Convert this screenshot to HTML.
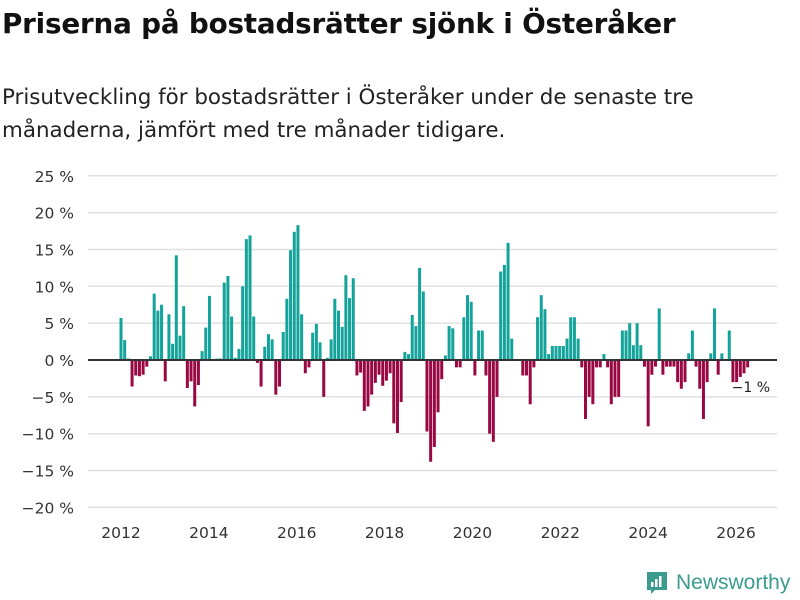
<!DOCTYPE html>
<html><head><meta charset="utf-8">
<style>
body{margin:0;width:800px;height:600px;background:#fff;font-family:"DejaVu Sans","Liberation Sans",sans-serif;color:#111;overflow:hidden;position:relative}
h1{position:absolute;left:2px;top:7px;margin:0;font-size:27.8px;font-weight:bold;letter-spacing:-0.2px;white-space:nowrap}
p.sub{position:absolute;left:2px;top:81px;margin:0;font-size:21.4px;line-height:33px;color:#222;white-space:nowrap}
svg{position:absolute;left:0;top:0}
</style></head><body>
<h1>Priserna på bostadsrätter sjönk i Österåker</h1>
<p class="sub">Prisutveckling för bostadsrätter i Österåker under de senaste tre<br>månaderna, jämfört med tre månader tidigare.</p>
<svg id="chart" width="800" height="600"></svg>
<script>
const startYear = 2012;
const values = [5.7,2.7,0.2,-3.6,-2.1,-2.2,-2,-0.9,0.5,9,6.7,7.5,-2.9,6.2,2.2,14.2,3.3,7.3,-3.8,-2.9,-6.3,-3.4,1.2,4.4,8.7,0.1,0.2,0.2,10.5,11.4,5.9,0.3,1.5,10,16.4,16.9,5.9,-0.4,-3.6,1.8,3.5,2.8,-4.7,
-3.6,3.8,8.3,14.9,17.4,18.3,6.2,-1.8,-1,3.7,4.9,2.4,-5,0.3,2.8,8.3,6.7,4.5,11.5,8.4,11.1,-2.1,-1.7,-6.9,-6.3,-4.7,-3.1,-2,-3.5,-2.8,-1.8,-8.6,-9.9,-5.7,1.1,0.8,6.1,4.6,12.5,9.3,-9.7,-13.8,-11.8,-7.1,-2.6,0.6,
4.6,4.3,-1,-1,5.8,8.8,7.9,-2.1,4,4,-2.1,-10,-11.1,-5,12,12.9,15.9,2.9,0,0,-2.1,-2.1,-6,-1,5.8,8.8,6.9,0.8,1.9,1.9,1.9,1.9,2.9,5.8,5.8,2.9,-1,-8,-5,-6,-1,-1,0.8,-1,-6,
-5,-5,4,4,5,2,5,2,-0.9,-9,-2,-0.9,7,-2,-0.9,-0.9,-0.9,-3,-3.9,-3,0.9,4,-0.9,-3.9,-8,-3,0.9,7,-2,0.9,0,4,-3,-3,-2.3,-1.8,-1];
const yTicks = [25,20,15,10,5,0,-5,-10,-15,-20];
const xTicks = [2012,2014,2016,2018,2020,2022,2024,2026];
const lastLabel = "−1 %";

const svg = document.getElementById('chart');
const NS = 'http://www.w3.org/2000/svg';
const y = v => 360 - v * 7.37;
const x = t => 121 + (t - 2012) * (623 / (169/12)) ;
function mk(tag, attrs, txt){const e=document.createElementNS(NS,tag);for(const k in attrs)e.setAttribute(k,attrs[k]);if(txt!==undefined)e.textContent=txt;svg.appendChild(e);return e;}
yTicks.forEach(t=>{
  if(t!==0){const g=mk('line',{x1:88,x2:777,y1:y(t),y2:y(t),stroke:'#e0e0e0','stroke-width':1.5});
  
  }
  const l=mk('text',{x:74,y:y(t)+6,'text-anchor':'end','font-size':15.5,fill:'#333'},(t<0?'−'+(-t):t)+' %');
  
  
});
xTicks.forEach(t=>{
  const tx=121+(t-2012)*43.93;
  const l=mk('text',{x:tx,y:538,'text-anchor':'middle','font-size':15.5,fill:'#333'},t);
  
  
});
values.forEach((v,i)=>{
  const cx=x(startYear+i/12);
  const r=mk('rect',{x:cx-1.5,y:Math.min(y(v),y(0)),width:3,height:Math.abs(y(v)-y(0)),fill:v>=0?'#13a39a':'#990843'});
  
  
});
const z=mk('line',{x1:88,x2:777,y1:y(0),y2:y(0),stroke:'#333','stroke-width':2});


const ll=mk('text',{x:x(startYear+(values.length-1)/12)-16,y:392,'font-size':14,fill:'#222'},lastLabel);


</script>
<div style="position:absolute;left:645px;top:570px;display:flex;align-items:center">
<svg width="24" height="26" style="position:static" viewBox="0 0 24 26"><path d="M2 2h20v18h-12l-4 4v-4H2z" fill="#3a9b8e"/><rect x="6" y="12" width="2.5" height="5" fill="#fff"/><rect x="10" y="9" width="2.5" height="8" fill="#fff"/><rect x="14" y="6" width="2.5" height="11" fill="#fff"/></svg>
<span style="font-size:21px;color:#3a9b8e;margin-left:7px;font-family:'Liberation Sans',sans-serif">Newsworthy</span></div>
</body></html>
